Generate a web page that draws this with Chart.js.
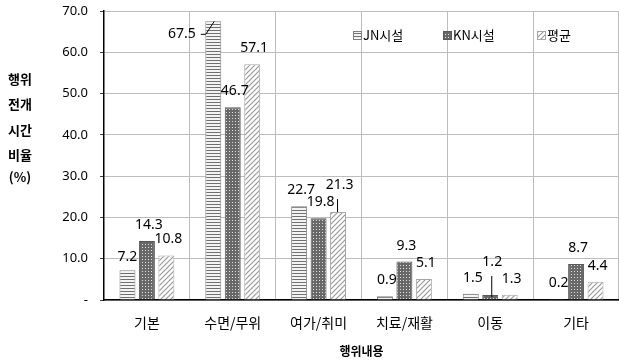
<!DOCTYPE html>
<html>
<head>
<meta charset="utf-8">
<script src="https://cdn.jsdelivr.net/npm/chart.js@4"></script>
<style>
  body { margin: 0; background: #fff; }
  #wrap { width: 619px; height: 363px; position: relative; }
</style>
</head>
<body>
<div id="wrap"><canvas id="barCanvas"></canvas></div>
<script>
    // 데이터
    var categories = ['기본', '수면/무위', '여가/취미', '치료/재활', '이동', '기타'];
    var seriesNames = ['JN시설', 'KN시설', '평균'];
    var jnValues = [7.2, 67.5, 22.7, 0.9, 1.5, 0.2];
    var knValues = [14.3, 46.7, 19.8, 9.3, 1.2, 8.7];
    var avgValues = [10.8, 57.1, 21.3, 5.1, 1.3, 4.4];
    var yMin = 0, yMax = 70, yStep = 10;

    var numFont = '"Noto Sans", sans-serif';
    var krFont = '"Noto Sans CJK KR", sans-serif';

    // 패턴
    function makePattern(w, h, draw) {
        var c = document.createElement('canvas');
        c.width = w; c.height = h;
        var g = c.getContext('2d');
        draw(g);
        return document.createElement('canvas').getContext('2d').createPattern(c, 'repeat');
    }
    var jnFill = makePattern(4, 3, function (g) {
        g.fillStyle = '#f4f4f4'; g.fillRect(0, 0, 4, 3);
        g.fillStyle = '#707070'; g.fillRect(0, 0, 4, 1);
    });
    var knFill = makePattern(3, 3, function (g) {
        g.fillStyle = '#686868'; g.fillRect(0, 0, 3, 3);
        g.fillStyle = '#e0e0e0'; g.fillRect(1, 1, 1, 1);
    });
    var avgFill = makePattern(5, 5, function (g) {
        g.fillStyle = '#ffffff'; g.fillRect(0, 0, 5, 5);
        g.strokeStyle = '#9a9a9a'; g.lineWidth = 1.2;
        g.beginPath(); g.moveTo(-1, 6); g.lineTo(6, -1); g.stroke();
        g.beginPath(); g.moveTo(-1, 1); g.lineTo(1, -1); g.stroke();
        g.beginPath(); g.moveTo(4, 6); g.lineTo(6, 4); g.stroke();
    });
    var fills = [jnFill, knFill, avgFill];
    var borders = ['#808080', '#585858', '#a6a6a6'];

    // 라벨 위치 보정 [dx, dy] (막대 위 기준)
    var defaultOffset = [2, -16];
    var labelOffsets = {
        '0-0': [0, -13],
        '0-1': [-31.5, 13],
        '2-2': [1.5, -27],
        '1-4': [2, -33]
    };

    var labelPlugin = {
        id: 'valueLabels',
        afterDatasetsDraw: function (chart) {
            var ctx = chart.ctx;
            ctx.save();
            ctx.font = '14px ' + numFont;
            ctx.fillStyle = '#000';
            ctx.textAlign = 'center';
            ctx.textBaseline = 'middle';
            chart.data.datasets.forEach(function (ds, di) {
                chart.getDatasetMeta(di).data.forEach(function (bar, i) {
                    var off = labelOffsets[di + '-' + i] || defaultOffset;
                    var lx = bar.x + off[0], ly = bar.y + off[1];
                    ctx.fillText(ds.data[i].toFixed(1), lx, ly);
                    ctx.strokeStyle = '#000';
                    ctx.lineWidth = 1;
                    if (di === 0 && i === 1) {
                        ctx.beginPath();
                        ctx.moveTo(lx + 19, ly);
                        ctx.lineTo(lx + 24, ly);
                        ctx.lineTo(bar.x + 1, bar.y);
                        ctx.stroke();
                    } else if (di === 2 && i === 2) {
                        ctx.beginPath();
                        ctx.moveTo(bar.x - 0.5, ly + 14);
                        ctx.lineTo(bar.x - 0.5, bar.y);
                        ctx.stroke();
                    } else if (di === 1 && i === 4) {
                        ctx.beginPath();
                        ctx.moveTo(bar.x + 1.5, ly + 14);
                        ctx.lineTo(bar.x + 1.5, bar.y + 2);
                        ctx.stroke();
                    }
                });
            });
            ctx.restore();
        }
    };

    // 범례 + 세로 축 제목
    var legendX = [353, 443, 537];
    var legendY = 35;
    var yTitleLines = ['행위', '전개', '시간', '비율', '(%)'];
    var yTitleTop = [79, 104, 130, 155, 177];
    var extrasPlugin = {
        id: 'extras',
        afterDraw: function (chart) {
            var ctx = chart.ctx;
            ctx.save();
            seriesNames.forEach(function (name, i) {
                ctx.fillStyle = fills[i];
                ctx.fillRect(legendX[i], legendY - 4, 8, 8);
                ctx.strokeStyle = borders[i];
                ctx.lineWidth = 1;
                ctx.strokeRect(legendX[i] + 0.5, legendY - 3.5, 8, 8);
                ctx.fillStyle = '#000';
                ctx.font = '13px ' + krFont;
                ctx.textAlign = 'left';
                ctx.textBaseline = 'middle';
                ctx.fillText(name, legendX[i] + 10, legendY);
            });
            ctx.font = 'bold 13px ' + krFont;
            ctx.textAlign = 'center';
            ctx.textBaseline = 'middle';
            yTitleLines.forEach(function (t, i) {
                ctx.fillText(t, 20, yTitleTop[i]);
            });
            ctx.restore();
        }
    };

    window.onload = function () {
        var barCtx = document.getElementById('barCanvas').getContext('2d');
        window.myBar = new Chart(barCtx, {
            type: 'bar',
            data: {
                labels: categories,
                datasets: [jnValues, knValues, avgValues].map(function (vals, i) {
                    return {
                        label: seriesNames[i],
                        data: vals,
                        backgroundColor: fills[i],
                        borderColor: borders[i],
                        borderWidth: 1,
                        categoryPercentage: 0.68,
                        barPercentage: 0.82
                    };
                })
            },
            options: {
                responsive: true,
                maintainAspectRatio: false,
                animation: false,
                layout: { padding: { top: 11, right: 0, left: 0, bottom: 0 } },
                plugins: {
                    legend: { display: false },
                    tooltip: { enabled: false }
                },
                scales: {
                    x: {
                        afterFit: function (s) { s.height = 63; s.paddingLeft = 0; s.paddingRight = 0; },
                        grid: { color: '#bdbdbd', drawTicks: false },
                        border: { color: '#000', width: 1.5 },
                        ticks: { color: '#000', padding: 14, font: { family: krFont, size: 14 } },
                        title: {
                            display: true, text: '행위내용', color: '#000',
                            font: { family: krFont, size: 12, weight: 'bold' },
                            padding: { top: 0, bottom: 4 }
                        }
                    },
                    y: {
                        min: yMin, max: yMax,
                        afterFit: function (s) { s.width = 104; s.paddingTop = 0; s.paddingBottom = 0; },
                        grid: { color: '#bdbdbd', tickLength: 4, tickColor: '#404040' },
                        border: { color: '#000', width: 1.5 },
                        ticks: {
                            stepSize: yStep, color: '#000', padding: 12,
                            font: { family: numFont, size: 13 },
                            callback: function (v) { return v === 0 ? '-' : v.toFixed(1); }
                        }
                    }
                }
            },
            plugins: [labelPlugin, extrasPlugin]
        });
    };
</script>
</body>
</html>
